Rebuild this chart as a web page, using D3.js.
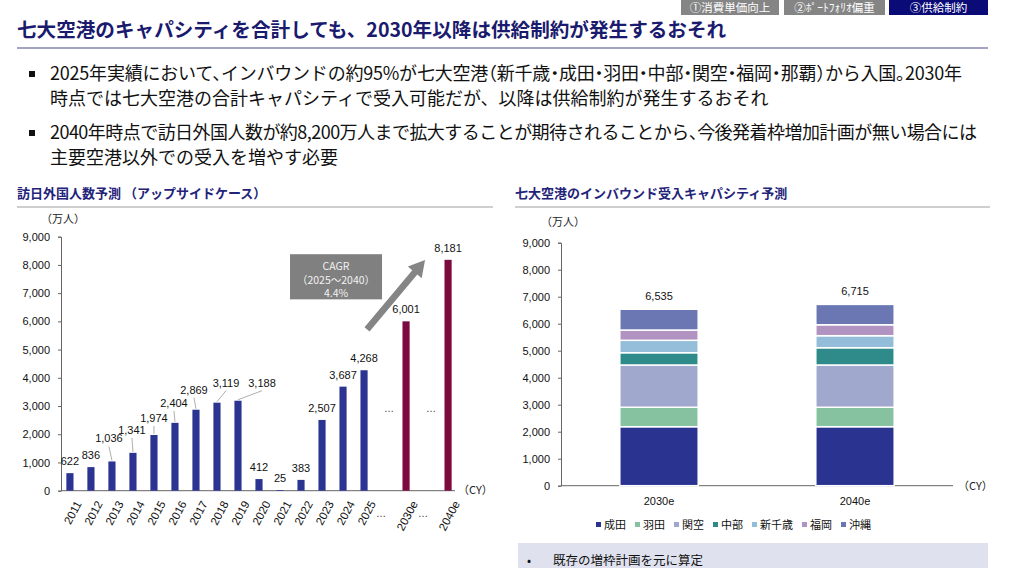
<!DOCTYPE html>
<meta charset="utf-8">
<style>
  body { margin: 0; background: #fff; }
  svg text { font-family: "Liberation Sans", Arial, sans-serif; }
  .jp { font-family: "Noto Sans CJK JP", sans-serif; }
  .half { font-feature-settings: "halt" 1; }
</style>
<body>
<div id="chart"></div>
<script src="https://d3js.org/d3.v7.min.js"></script>
<script>

// ---- data ----
var actualYears  = ["2011","2012","2013","2014","2015","2016","2017","2018","2019","2020","2021","2022","2023","2024","2025"];
var actualValues = [622, 836, 1036, 1341, 1974, 2404, 2869, 3119, 3188, 412, 25, 383, 2507, 3687, 4268];
var forecastYears  = ["2030e","2040e"];
var forecastValues = [6001, 8181];
var slots = actualYears.concat(["gap1", "2030e", "gap2", "2040e"]);
var yTicks = [0, 1000, 2000, 3000, 4000, 5000, 6000, 7000, 8000, 9000];

var capYears = ["2030e","2040e"];
var airports = ["成田","羽田","関空","中部","新千歳","福岡","沖縄"];
var narita      = [2185, 2185];
var haneda      = [720, 720];
var kansai      = [1565, 1565];
var chubu       = [455, 640];
var shinchitose = [460, 445];
var fukuoka     = [380, 405];
var okinawa     = [770, 755];

var airportColors = ["#2a3390", "#86c2a0", "#a1a8cd", "#2f8a8a", "#93bdd9", "#b193c2", "#6a77b2"];

// label nudges for the crowded bars (dx, dy from bar top), others sit just above
var labelNudge = {
  "2013": [-3, -19], "2014": [-1, -19], "2015": [0, -13], "2016": [-1, -16],
  "2017": [-2, -16], "2018": [9, -16], "2019": [24, -14]
};

var W = 1009, H = 568;
var svg = d3.select("#chart").append("svg")
    .attr("width", W).attr("height", H);

// ---- header ----
var tabs = [
  {t: "①消費単価向上", x0: 681, x1: 779, c: "#858585"},
  {t: "②ﾎﾟｰﾄﾌｫﾘｵ偏重", x0: 784, x1: 885, c: "#858585"},
  {t: "③供給制約", x0: 889, x1: 988, c: "#0b0b78"}
];
tabs.forEach(function(d) {
  svg.append("rect").attr("x", d.x0).attr("y", 0)
    .attr("width", d.x1 - d.x0).attr("height", 15).attr("fill", d.c);
  svg.append("text").attr("class", "jp")
    .attr("x", (d.x0 + d.x1) / 2).attr("y", 11.5)
    .attr("text-anchor", "middle").attr("fill", "#fff")
    .style("font-size", "11.5px")
    .text(d.t);
});

svg.append("text").attr("class", "jp")
  .attr("x", 17).attr("y", 37)
  .attr("fill", "#1a1a6e")
  .style("font-size", "19.6px").style("font-weight", "700")
  .text("七大空港のキャパシティを合計しても、2030年以降は供給制約が発生するおそれ");

svg.append("line").attr("x1", 17).attr("x2", 988).attr("y1", 48).attr("y2", 48)
  .attr("stroke", "#8585b0").attr("stroke-width", 1.5);

// bullet lines; the long ones use half-width punctuation like the source font
var bullets = [
  [{t: "2025年実績において、インバウンドの約95%が七大空港（新千歳・成田・羽田・中部・関空・福岡・那覇）から入国。2030年", half: true, fit: 912},
   {t: "時点では七大空港の合計キャパシティで受入可能だが、以降は供給制約が発生するおそれ"}],
  [{t: "2040年時点で訪日外国人数が約8,200万人まで拡大することが期待されることから、今後発着枠増加計画が無い場合には", half: true, fit: 927},
   {t: "主要空港以外での受入を増やす必要"}]
];
var bulletY = [74, 133];
bullets.forEach(function(lines, i) {
  svg.append("rect").attr("x", 29).attr("y", bulletY[i] - 3)
    .attr("width", 6).attr("height", 6).attr("fill", "#111");
  lines.forEach(function(l, j) {
    var t = svg.append("text").attr("class", l.half ? "jp half" : "jp")
      .attr("x", 50).attr("y", bulletY[i] + 6 + j * 25)
      .attr("fill", "#111")
      .style("font-size", "18px")
      .text(l.t);
    if (l.fit) {
      var w = t.node().getComputedTextLength();
      t.attr("textLength", l.fit).attr("lengthAdjust", w < l.fit + 45 ? "spacing" : "spacingAndGlyphs");
    }
  });
});

// section titles
function sectionTitle(x0, x1, txt) {
  svg.append("text").attr("class", "jp")
    .attr("x", x0).attr("y", 198)
    .attr("fill", "#23237a")
    .style("font-size", "13px").style("font-weight", "700")
    .text(txt);
  svg.append("line").attr("x1", x0).attr("x2", x1).attr("y1", 207).attr("y2", 207)
    .attr("stroke", "#cfcfcf").attr("stroke-width", 2);
}
sectionTitle(17, 493, "訪日外国人数予測 （アップサイドケース）");
sectionTitle(515, 990, "七大空港のインバウンド受入キャパシティ予測");

// ---- left chart ----
var x1 = d3.scaleBand().domain(slots).range([63, 455]).paddingInner(0.66).paddingOuter(0.16);
var y1 = d3.scaleLinear().domain([0, 9000]).range([490.7, 236.7]);
var cx = function(k) { return x1(k) + x1.bandwidth() / 2; };

var gL = svg.append("g");
var yAxisL = gL.append("g").attr("transform", "translate(61,0)")
  .call(d3.axisLeft(y1).tickValues(yTicks).tickSize(3).tickPadding(8).tickFormat(d3.format(",")));
yAxisL.select(".domain").attr("stroke", "#666");
yAxisL.selectAll(".tick line").attr("stroke", "#666");
yAxisL.selectAll("text").style("font-size", "11px").attr("fill", "#111");

gL.append("line").attr("x1", 61).attr("x2", 455).attr("y1", y1(0)).attr("y2", y1(0))
  .attr("stroke", "#666");

gL.append("text").attr("class", "jp").attr("x", 41).attr("y", 223)
  .style("font-size", "11px").attr("fill", "#222").text("（万人）");
gL.append("text").attr("class", "jp").attr("x", 458).attr("y", 494)
  .style("font-size", "11px").attr("fill", "#222").text("（CY）");

var leftBars = actualYears.map(function(k, i) { return {k: k, v: actualValues[i], c: "#2b3491"}; })
  .concat(forecastYears.map(function(k, i) { return {k: k, v: forecastValues[i], c: "#7c0a3e"}; }));

gL.selectAll("rect.bar").data(leftBars).enter().append("rect")
  .attr("class", "bar")
  .attr("x", function(d) { return x1(d.k); })
  .attr("y", function(d) { return y1(d.v); })
  .attr("width", x1.bandwidth())
  .attr("height", function(d) { return y1(0) - y1(d.v); })
  .attr("fill", function(d) { return d.c; });

leftBars.forEach(function(d) {
  var n = labelNudge[d.k] || [0, -8];
  var lx = cx(d.k) + n[0], ly = y1(d.v) + n[1];
  if (labelNudge[d.k]) {
    gL.append("line")
      .attr("x1", lx).attr("y1", ly + 4)
      .attr("x2", cx(d.k)).attr("y2", y1(d.v) - 1)
      .attr("stroke", "#9a9a9a").attr("stroke-width", 0.8);
  }
  gL.append("text").attr("x", lx).attr("y", ly)
    .attr("text-anchor", "middle").style("font-size", "11px").attr("fill", "#111")
    .text(d3.format(",")(d.v));
});

// rotated year labels
slots.forEach(function(k) {
  if (k.indexOf("gap") === 0) {
    gL.append("text").attr("x", cx(k) - 4).attr("y", 517)
      .attr("text-anchor", "middle").style("font-size", "10px").attr("fill", "#333").text("…");
    gL.append("text").attr("x", cx(k) + 4).attr("y", y1(2800))
      .attr("text-anchor", "middle").style("font-size", "10px").attr("fill", "#333").text("…");
    return;
  }
  gL.append("text")
    .attr("transform", "translate(" + (cx(k) + 5) + "," + (y1(0) + 9) + ") rotate(-62)")
    .attr("text-anchor", "end").attr("dy", "0.7em")
    .style("font-size", "11.5px").attr("fill", "#111")
    .text(k);
});

// CAGR box
var bx0 = cx("2022") - 11, bx1 = cx("2025") + 18, by0 = y1(8380), by1 = y1(6780);
gL.append("rect").attr("x", bx0).attr("y", by0)
  .attr("width", bx1 - bx0).attr("height", by1 - by0).attr("fill", "#808080");
["CAGR", "（2025～2040）", "4.4%"].forEach(function(t, i) {
  gL.append("text").attr("class", "jp")
    .attr("x", (bx0 + bx1) / 2).attr("y", by0 + 16 + i * 13.5)
    .attr("text-anchor", "middle").style("font-size", "10.5px").attr("fill", "#f2f2f2")
    .text(t);
});

// growth arrow
(function() {
  var sx = cx("2025") + 3, sy = y1(5720), ex = cx("gap2") - 2, ey = y1(8170);
  var dx = ex - sx, dy = ey - sy, L = Math.sqrt(dx * dx + dy * dy);
  var ux = dx / L, uy = dy / L, px = -uy, py = ux;
  var sw = 3.3, hw = 9, hl = 16;
  var bxp = ex - ux * hl, byp = ey - uy * hl;
  var pts = [
    [sx + px * sw, sy + py * sw], [bxp + px * sw, byp + py * sw], [bxp + px * hw, byp + py * hw],
    [ex, ey], [bxp - px * hw, byp - py * hw], [bxp - px * sw, byp - py * sw], [sx - px * sw, sy - py * sw]
  ];
  gL.append("polygon").attr("points", pts.map(function(p) { return p.join(","); }).join(" "))
    .attr("fill", "#858585");
})();

// ---- right chart ----
var rows = capYears.map(function(yr, i) {
  return {year: yr, "成田": narita[i], "羽田": haneda[i], "関空": kansai[i], "中部": chubu[i],
          "新千歳": shinchitose[i], "福岡": fukuoka[i], "沖縄": okinawa[i]};
});
var stack = d3.stack().keys(airports)(rows);
var color = d3.scaleOrdinal().domain(airports).range(airportColors);

var x2 = d3.scaleBand().domain(capYears).range([561, 953]).paddingInner(0.6).paddingOuter(0.3);
var y2 = d3.scaleLinear().domain([0, 9000]).range([485.7, 242.7]);

var gR = svg.append("g");
var yAxisR = gR.append("g").attr("transform", "translate(561,0)")
  .call(d3.axisLeft(y2).tickValues(yTicks).tickSize(3).tickPadding(8).tickFormat(d3.format(",")));
yAxisR.select(".domain").attr("stroke", "#666");
yAxisR.selectAll(".tick line").attr("stroke", "#666");
yAxisR.selectAll("text").style("font-size", "11px").attr("fill", "#111");

gR.append("g").attr("transform", "translate(0," + y2(0) + ")")
  .call(d3.axisBottom(x2).tickSize(0).tickPadding(12))
  .call(function(g) {
    g.select(".domain").attr("stroke", "#666").attr("d", "M561,0H953");
    g.selectAll("text").style("font-size", "11px").attr("fill", "#111");
  });

gR.append("text").attr("class", "jp").attr("x", 541).attr("y", 226)
  .style("font-size", "11px").attr("fill", "#222").text("（万人）");
gR.append("text").attr("class", "jp").attr("x", 958).attr("y", 490)
  .style("font-size", "11px").attr("fill", "#222").text("（CY）");

gR.selectAll("g.layer").data(stack).enter().append("g")
  .attr("class", "layer")
  .attr("fill", function(d) { return color(d.key); })
  .selectAll("rect").data(function(d) { return d; }).enter().append("rect")
    .attr("x", function(d) { return x2(d.data.year); })
    .attr("y", function(d) { return y2(d[1]); })
    .attr("width", x2.bandwidth())
    .attr("height", function(d) { return y2(d[0]) - y2(d[1]); })
    .attr("stroke", "#fff").attr("stroke-width", 1.5);

rows.forEach(function(r) {
  var tot = d3.sum(airports, function(a) { return r[a]; });
  gR.append("text").attr("x", x2(r.year) + x2.bandwidth() / 2).attr("y", y2(tot) - 9)
    .attr("text-anchor", "middle").style("font-size", "11px").attr("fill", "#111")
    .text(d3.format(",")(tot));
});

// legend
var lg = gR.append("g");
var lx = 596;
airports.forEach(function(a) {
  lg.append("rect").attr("x", lx).attr("y", 522).attr("width", 5).attr("height", 5).attr("fill", color(a));
  var t = lg.append("text").attr("class", "jp").attr("x", lx + 8).attr("y", 529)
    .style("font-size", "11px").attr("fill", "#111").text(a);
  lx += 8 + t.node().getComputedTextLength() + 9;
});

// note box
svg.append("rect").attr("x", 518).attr("y", 543).attr("width", 470).attr("height", 30).attr("fill", "#dfe1ee");
svg.append("text").attr("class", "jp").attr("x", 527).attr("y", 565)
  .style("font-size", "12px").attr("fill", "#111").text("•");
svg.append("text").attr("class", "jp").attr("x", 553).attr("y", 565)
  .style("font-size", "12.5px").attr("fill", "#111").text("既存の増枠計画を元に算定");

</script>
</body>
